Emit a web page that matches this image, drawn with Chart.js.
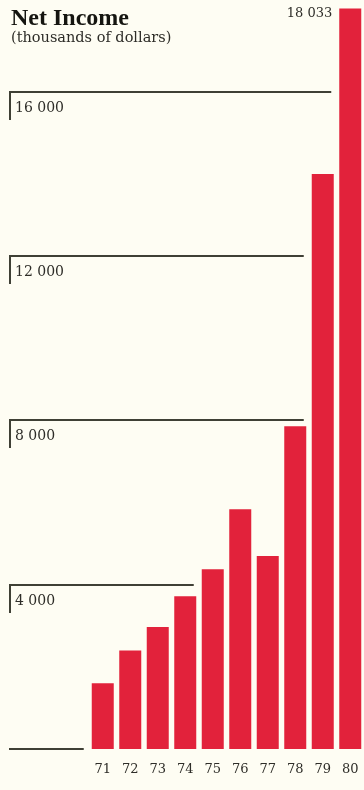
<!DOCTYPE html>
<html>
<head>
<meta charset="utf-8">
<script src="https://cdn.jsdelivr.net/npm/chart.js@4.4.1/dist/chart.umd.min.js"></script>
<style>
    html, body { margin: 0; padding: 0; background: #fefdf3; }
    #wrap { position: relative; width: 364px; height: 790px; }
</style>
</head>
<body>
<div id="wrap"><canvas id="netIncome"></canvas></div>
<script>
// 年度と純利益（千ドル）
const years = ['71', '72', '73', '74', '75', '76', '77', '78', '79', '80'];
const netIncome = [1600, 2400, 2970, 3720, 4380, 5840, 4700, 7860, 14000, 18033];
const gridValues = [4000, 8000, 12000, 16000];
const gridLabels = ['4 000', '8 000', '12 000', '16 000'];

const BAR_RED = '#e2223b';
const INK = '#2e2d28';
const RULE = '#3f4035';

// 数値を「18 033」形式にする
function spaced(n) {
    return String(n).replace(/\B(?=(\d{3})+(?!\d))/g, ' ');
}

// 背景・目盛り線・年ラベル・見出しを描くプラグイン
const ledgerPlugin = {
    id: 'ledger',
    beforeDraw(chart) {
        const ctx = chart.ctx;
        ctx.save();
        ctx.fillStyle = '#fefdf3';
        ctx.fillRect(0, 0, chart.width, chart.height);
        ctx.restore();
    },
    beforeDatasetsDraw(chart) {
        const ctx = chart.ctx;
        const y = chart.scales.y;
        const bars = chart.getDatasetMeta(0).data;
        const values = chart.data.datasets[0].data;

        // 線は最初にその値を超える棒の手前で止める
        const lineEnd = (v) => {
            const i = values.findIndex(d => d > v);
            const bar = bars[i];
            return bar.x - bar.width / 2 - 8;
        };

        ctx.save();
        ctx.strokeStyle = RULE;
        ctx.lineWidth = 2;

        // ゼロの線
        const y0 = Math.round(y.getPixelForValue(0));
        ctx.beginPath();
        ctx.moveTo(9, y0);
        ctx.lineTo(lineEnd(0), y0);
        ctx.stroke();

        ctx.fillStyle = INK;
        ctx.font = '14px "DejaVu Serif"';
        ctx.textAlign = 'left';
        ctx.textBaseline = 'middle';
        gridValues.forEach((v, k) => {
            const py = Math.round(y.getPixelForValue(v));
            ctx.beginPath();
            ctx.moveTo(10, py + 28);
            ctx.lineTo(10, py);
            ctx.lineTo(lineEnd(v), py);
            ctx.stroke();
            ctx.fillText(gridLabels[k], 15, py + 16);
        });
        ctx.restore();
    },
    afterDatasetsDraw(chart) {
        const ctx = chart.ctx;
        const bars = chart.getDatasetMeta(0).data;
        const values = chart.data.datasets[0].data;
        const area = chart.chartArea;
        const last = bars.length - 1;
        const top = bars[last];

        ctx.save();
        ctx.fillStyle = INK;

        // 年ラベル
        ctx.font = '13px "DejaVu Serif"';
        ctx.textAlign = 'center';
        ctx.textBaseline = 'middle';
        chart.data.labels.forEach((lab, i) => {
            ctx.fillText(lab, bars[i].x, area.bottom + 21);
        });

        // 最終年の値ラベル
        ctx.textAlign = 'right';
        ctx.fillText(spaced(values[last]), top.x - top.width / 2 - 7, top.y + 5);

        // 見出し
        ctx.textAlign = 'left';
        ctx.textBaseline = 'alphabetic';
        ctx.fillStyle = '#151510';
        ctx.font = 'bold 24px "Liberation Serif"';
        ctx.fillText('Net Income', 11, 25);
        ctx.fillStyle = INK;
        ctx.font = '14.5px "DejaVu Serif"';
        ctx.fillText('(thousands of dollars)', 11, 42);
        ctx.restore();
    }
};

const canvas = document.getElementById('netIncome');
new Chart(canvas, {
    type: 'bar',
    data: {
        labels: years,
        datasets: [{
            data: netIncome,
            backgroundColor: BAR_RED,
            borderWidth: 0,
            barPercentage: 0.8,
            categoryPercentage: 1.0
        }]
    },
    options: {
        responsive: true,
        maintainAspectRatio: false,
        animation: false,
        layout: {
            padding: { left: 89, right: 0, top: 0, bottom: 41 }
        },
        plugins: {
            legend: { display: false },
            title: { display: false },
            tooltip: { enabled: false }
        },
        scales: {
            x: {
                display: false,
                offset: true
            },
            y: {
                display: false,
                min: 0,
                max: 18240
            }
        }
    },
    plugins: [ledgerPlugin]
});
</script>
</body>
</html>
